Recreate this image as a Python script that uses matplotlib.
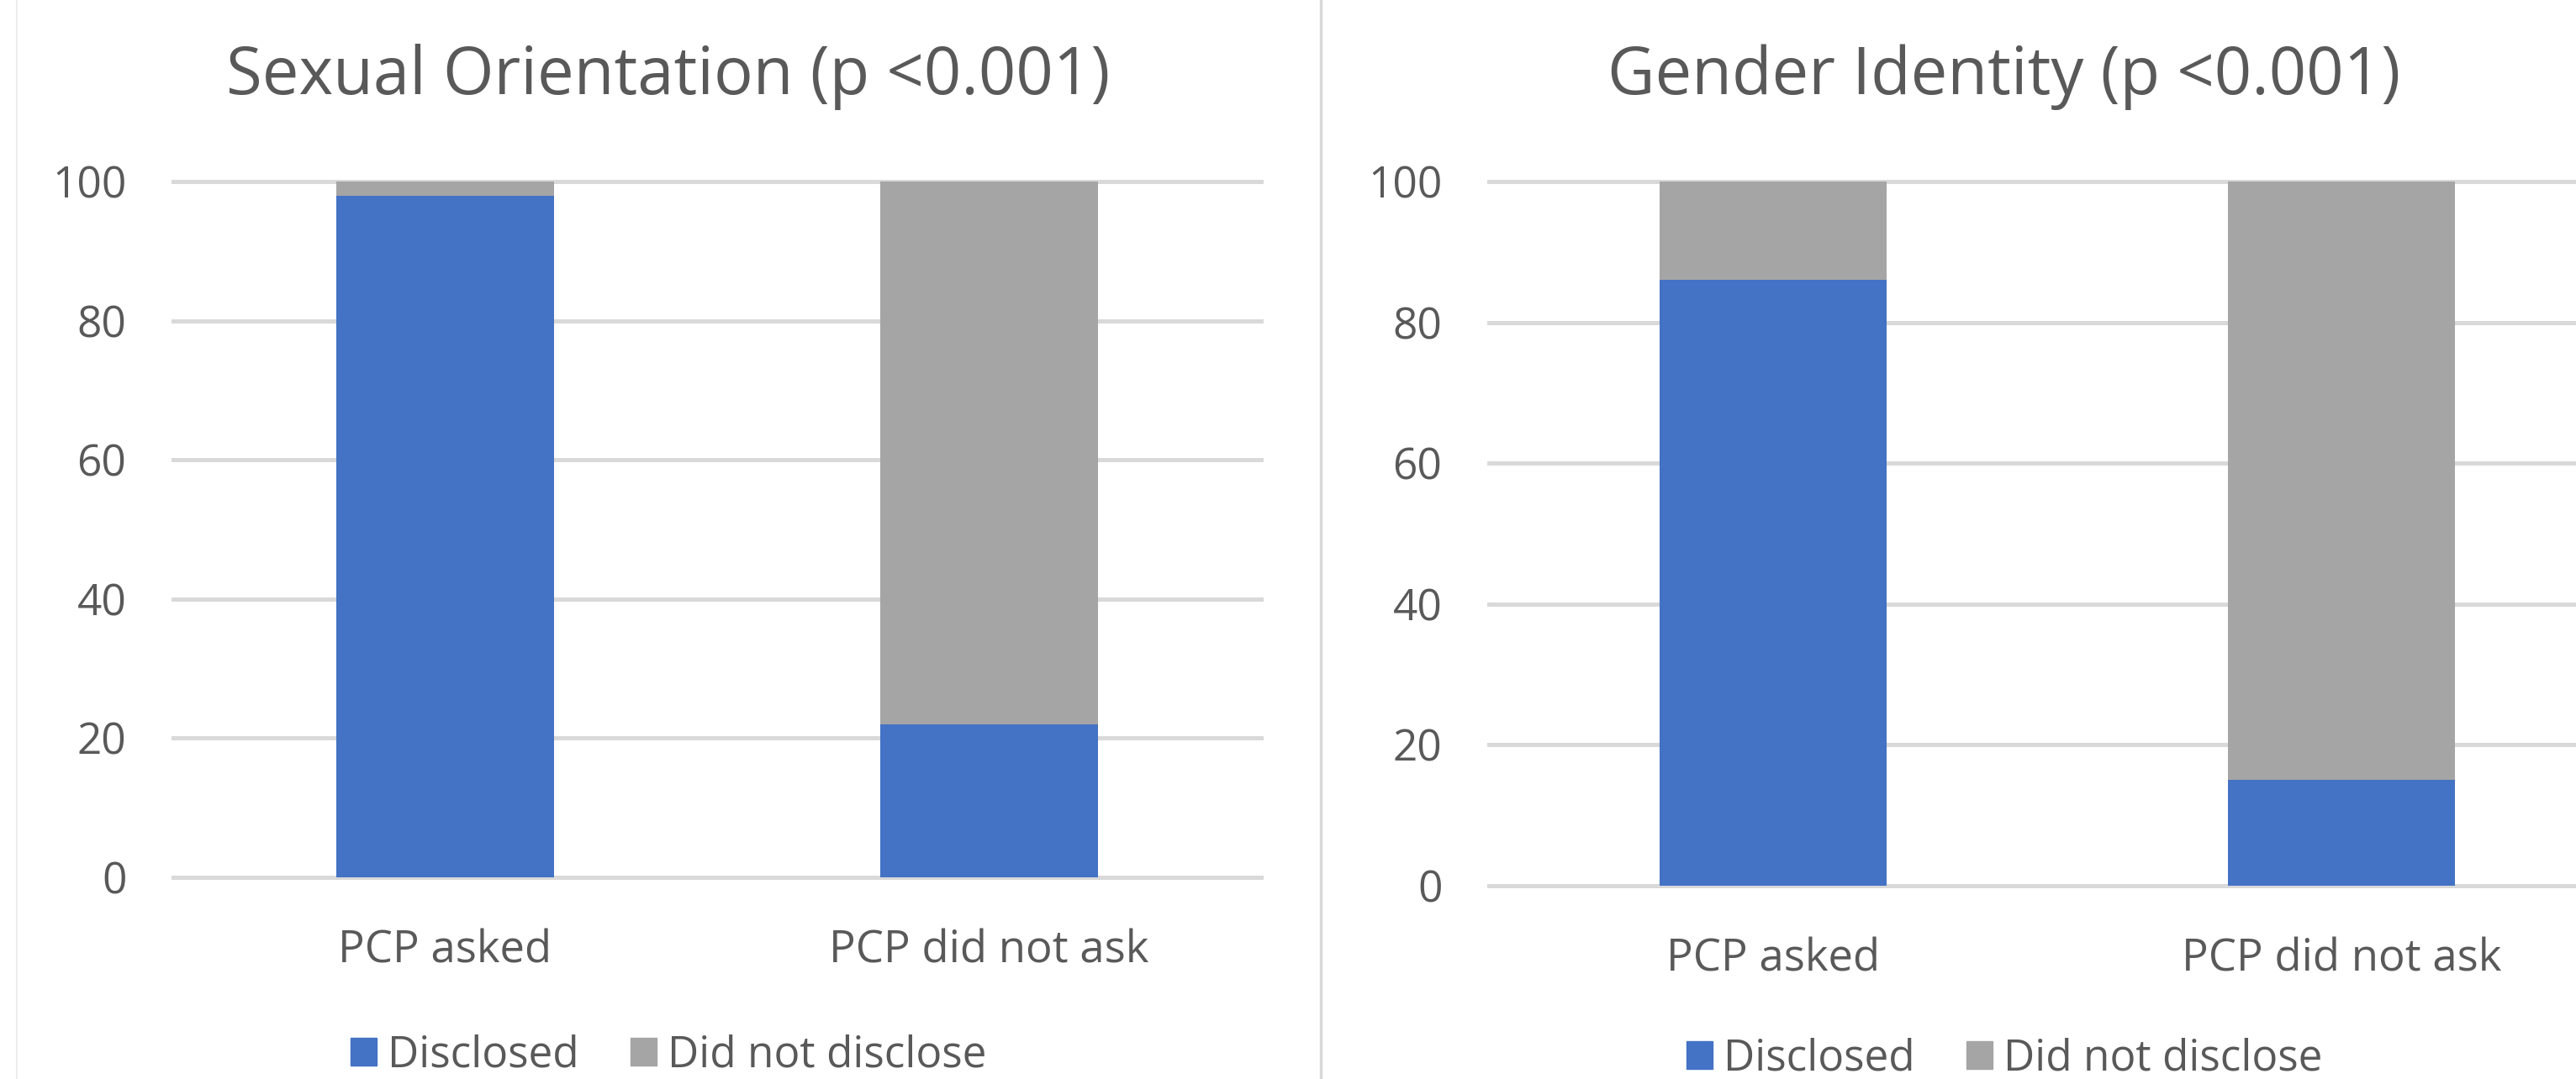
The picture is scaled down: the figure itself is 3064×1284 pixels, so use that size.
import matplotlib
matplotlib.use('Agg')
import matplotlib.pyplot as plt
from matplotlib.patches import Patch
from matplotlib.lines import Line2D

plt.rcParams['font.family'] = ['Open Sans', 'DejaVu Sans']

# data (percent)
categories = ['PCP asked', 'PCP did not ask']
series_names = ['Disclosed', 'Did not disclose']
orientation_disclosed = [98, 22]
orientation_not_disclosed = [2, 78]
identity_disclosed = [86, 15]
identity_not_disclosed = [14, 85]
titles = ['Sexual Orientation (p <0.001)', 'Gender Identity (p <0.001)']
yticks = [0, 20, 40, 60, 80, 100]

BLUE = '#4472C4'
GRAY = '#A5A5A5'
GRID = '#D9D9D9'
TEXT = '#595959'

W, H = 3064, 1284
fig = plt.figure(figsize=(W / 100, H / 100), dpi=100)


def rect(x0, y0, x1, y1):
    # pixel box (top-left origin) -> figure fraction
    return [x0 / W, 1 - y1 / H, (x1 - x0) / W, (y1 - y0) / H]


panels = [
    dict(box=rect(206, 216, 1500, 1044), title=titles[0],
         dis=orientation_disclosed, nd=orientation_not_disclosed,
         cx=795, title_y=112, leg_y=1256),
    dict(box=rect(1771, 216, 3123, 1054), title=titles[1],
         dis=identity_disclosed, nd=identity_not_disclosed,
         cx=2384, title_y=112, leg_y=1260),
]

x = list(range(len(categories)))
for p in panels:
    ax = fig.add_axes(p['box'])
    for y in yticks:
        ax.axhline(y, color=GRID, lw=3.6, zorder=0, clip_on=False)
    ax.bar(x, p['dis'], 0.4, color=BLUE, zorder=2)
    ax.bar(x, p['nd'], 0.4, bottom=p['dis'], color=GRAY, zorder=2)
    ax.set_xlim(-0.5, 1.5)
    ax.set_ylim(0, 100)
    ax.set_yticks(yticks)
    ax.set_xticks(x)
    ax.set_xticklabels(categories)
    for s in ax.spines.values():
        s.set_visible(False)
    ax.tick_params(axis='y', length=0, labelsize=37, labelcolor=TEXT, pad=40)
    ax.tick_params(axis='x', length=0, labelsize=38, labelcolor=TEXT, pad=44)
    ax.patch.set_alpha(0)

    fig.text(p['cx'] / W, 1 - p['title_y'] / H, p['title'], ha='center',
             va='baseline', fontsize=56, color=TEXT)

    handles = [Patch(color=BLUE, label=series_names[0]),
               Patch(color=GRAY, label=series_names[1])]
    fig.legend(handles=handles, loc='center', bbox_to_anchor=(p['cx'] / W, 1 - p['leg_y'] / H),
               ncol=2, frameon=False, fontsize=37, labelcolor=TEXT,
               handlelength=0.6, handleheight=0.6, handletextpad=0.25,
               columnspacing=1.2, borderpad=0.2)

# chart area borders
fig.add_artist(Line2D([1571 / W, 1571 / W], [0, 1], color=GRID, lw=2.5))
fig.add_artist(Line2D([20 / W, 20 / W], [0, 1], color='#EEEEEE', lw=1.5))

fig.savefig('out.png', dpi=100)
